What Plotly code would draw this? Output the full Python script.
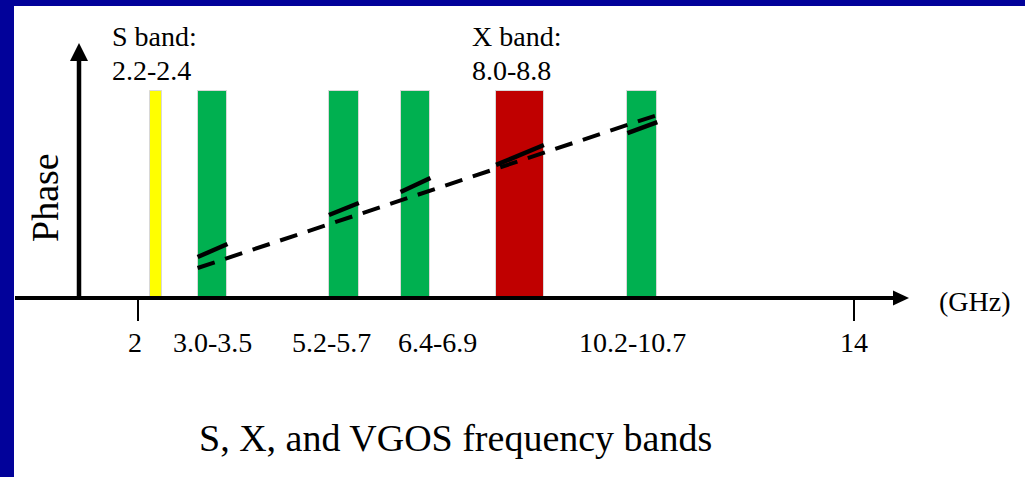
import plotly.graph_objects as go

# Frequency bands (GHz)
band_lo = [2.2, 3.0, 5.2, 6.4, 8.0, 10.2]
band_hi = [2.4, 3.5, 5.7, 6.9, 8.8, 10.7]
band_top = [1.0, 1.0, 1.0, 1.0, 1.0, 1.0]
band_colors = ["#FFFF00", "#00B050", "#00B050", "#00B050", "#C00000", "#00B050"]
band_labels = ["3.0-3.5", "5.2-5.7", "6.4-6.9", "10.2-10.7"]
band_label_freq = [3.25, 5.45, 6.65, 10.45]
band_label_shift = [0, -12, 22, -10]

# Straight-line phase model across the broadband span
fit_freq = [3.0, 10.7]
fit_phase = [0.145, 0.884]

# Phase measured within each VGOS / X band
seg_freq = [3.0, 3.5, None, 5.2, 5.7, None, 6.4, 6.9, None, 8.0, 8.8, None, 10.2, 10.7]
seg_phase = [0.198, 0.261, None, 0.401, 0.459, None, 0.512, 0.580, None,
             0.643, 0.739, None, 0.797, 0.850]

axis_ticks = [2, 14]
axis_tick_text = ["2", "14"]

BLUE = "#02029A"
FONT = "Liberation Serif"
LABEL_SIZE = 28

W_PX, H_PX = 1025, 477
L, T = 14, 6
PW, PH = W_PX - L, H_PX - T


def px(x):
    return (x - L) / PW


def py(y):
    return (T + PH - y) / PH


centers = [(a + b) / 2 for a, b in zip(band_lo, band_hi)]
widths = [b - a for a, b in zip(band_lo, band_hi)]

fig = go.Figure()
fig.add_trace(go.Bar(
    x=centers, y=band_top, width=widths, base=0,
    marker=dict(color=band_colors, line=dict(color="#d8d8d8", width=1)),
    hoverinfo="skip", showlegend=False,
))
fig.add_trace(go.Scatter(
    x=fit_freq, y=fit_phase, mode="lines",
    line=dict(color="black", width=4, dash="18px,11px"),
    showlegend=False, hoverinfo="skip",
))
fig.add_trace(go.Scatter(
    x=seg_freq, y=seg_phase, mode="lines",
    line=dict(color="black", width=4.5),
    showlegend=False, hoverinfo="skip", connectgaps=False,
))

shapes = []
# horizontal frequency axis with arrowhead
shapes.append(dict(type="line", xref="paper", yref="paper",
                   x0=px(15), x1=px(896), y0=py(298), y1=py(298),
                   line=dict(color="black", width=4)))
shapes.append(dict(type="path", xref="paper", yref="paper",
                   path=f"M {px(909)} {py(298)} L {px(893)} {py(290.5)} L {px(893)} {py(305.5)} Z",
                   fillcolor="black", line=dict(color="black", width=0)))
# vertical phase axis with arrowhead
shapes.append(dict(type="line", xref="paper", yref="paper",
                   x0=px(79), x1=px(79), y0=py(300), y1=py(58),
                   line=dict(color="black", width=4.5)))
shapes.append(dict(type="path", xref="paper", yref="paper",
                   path=f"M {px(79)} {py(43)} L {px(70)} {py(61)} L {px(88)} {py(61)} Z",
                   fillcolor="black", line=dict(color="black", width=0)))

annotations = []


def label(text, x, y, size=LABEL_SIZE, xanchor="left", **kw):
    annotations.append(dict(text=text, xref="paper", yref="paper",
                            x=px(x), y=py(y), xanchor=xanchor, yanchor="middle",
                            showarrow=False,
                            font=dict(family=FONT, size=size, color="black"), **kw))


label("S band:", 110, 37)
label("2.2-2.4", 110, 71)
label("X band:", 470, 37)
label("8.0-8.8", 470, 71)
label("(GHz)", 937, 301)
label("Phase", 45, 198, size=38, xanchor="center", textangle=-90)
label("S, X, and VGOS frequency bands", 455, 438, size=38, xanchor="center")

# frequency tick labels and band labels along the axis
for txt, f, sh in zip(axis_tick_text + band_labels,
                      axis_ticks + band_label_freq,
                      [-3, 0] + band_label_shift):
    annotations.append(dict(text=txt, xref="x", yref="paper", x=f, y=py(342),
                            xanchor="center", yanchor="middle", xshift=sh,
                            showarrow=False,
                            font=dict(family=FONT, size=LABEL_SIZE, color="black")))

fig.update_layout(
    width=W_PX, height=H_PX,
    margin=dict(l=L, r=0, t=T, b=0, pad=0),
    paper_bgcolor=BLUE, plot_bgcolor="white",
    shapes=shapes, annotations=annotations,
    showlegend=False, bargap=0,
    xaxis=dict(range=[(L - 18.5) / 59.7, (W_PX - 18.5) / 59.7],
               showgrid=False, zeroline=False, showline=False,
               anchor="free", position=py(298),
               tickvals=axis_ticks, showticklabels=False,
               ticks="outside", ticklen=22, tickwidth=2, tickcolor="black",
               fixedrange=True),
    yaxis=dict(range=[-(H_PX - 298) / 207, (298 - T) / 207], visible=False,
               fixedrange=True),
)

fig.write_html("out.html")
